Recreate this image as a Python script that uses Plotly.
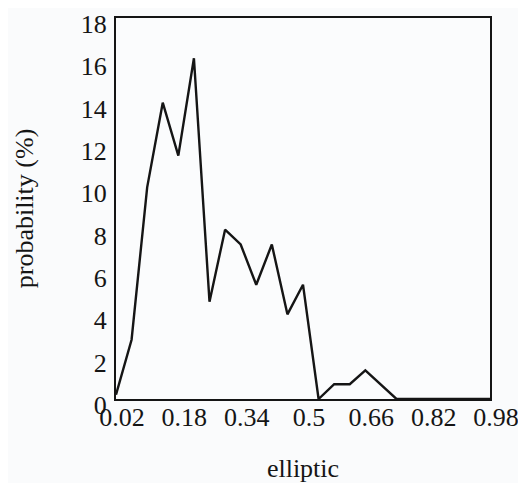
import plotly.graph_objects as go

elliptic = [0.02, 0.06, 0.10, 0.14, 0.18, 0.22, 0.26, 0.30, 0.34, 0.38, 0.42, 0.46, 0.50,
            0.54, 0.58, 0.62, 0.66, 0.70, 0.74, 0.78, 0.82, 0.86, 0.90, 0.94, 0.98]
probability = [0.2, 2.8, 10.0, 14.0, 11.5, 16.1, 4.6, 8.0, 7.3, 5.4, 7.3, 4.0, 5.4,
               0.0, 0.7, 0.7, 1.35, 0.67, 0.0, 0.0, 0.0, 0.0, 0.0, 0.0, 0.0]
x_ticks = [0.02, 0.18, 0.34, 0.5, 0.66, 0.82, 0.98]
x_tick_labels = ["0.02", "0.18", "0.34", "0.5", "0.66", "0.82", "0.98"]
y_ticks = [0, 2, 4, 6, 8, 10, 12, 14, 16, 18]

FONT = "Liberation Serif"

fig = go.Figure()
fig.add_trace(go.Scatter(
    x=elliptic, y=probability, mode="lines",
    line=dict(color="#151515", width=2.4),
    showlegend=False, hoverinfo="skip",
))

# the page body adds an 8 px margin, so the figure is sized/offset to compensate
fig.update_layout(
    width=518, height=475,
    margin=dict(l=108, r=36, t=10, b=84, autoexpand=False),
    paper_bgcolor="#fafbfc",
    plot_bgcolor="#fbfcfd",
    font=dict(family=FONT, size=26, color="#151515"),
    xaxis=dict(
        range=[0.02, 0.98], tickvals=x_ticks, ticktext=x_tick_labels,
        ticks="", showgrid=False, zeroline=False, automargin=False,
        showline=True, linecolor="#151515", linewidth=2, mirror=True,
        title=dict(text="elliptic", font=dict(family=FONT, size=26), standoff=31),
        ticklabeloverflow="allow", ticklabelshift=6, ticklabelstandoff=-6,
    ),
    yaxis=dict(
        range=[0, 18], tickvals=y_ticks, automargin=False,
        ticks="", showgrid=False, zeroline=False,
        showline=True, linecolor="#151515", linewidth=2, mirror=True,
        title=dict(text="probability (%)", font=dict(family=FONT, size=26), standoff=40),
        ticklabeloverflow="allow", ticklabelshift=6, ticklabelstandoff=2,
    ),
)

fig.write_html("out.html")
